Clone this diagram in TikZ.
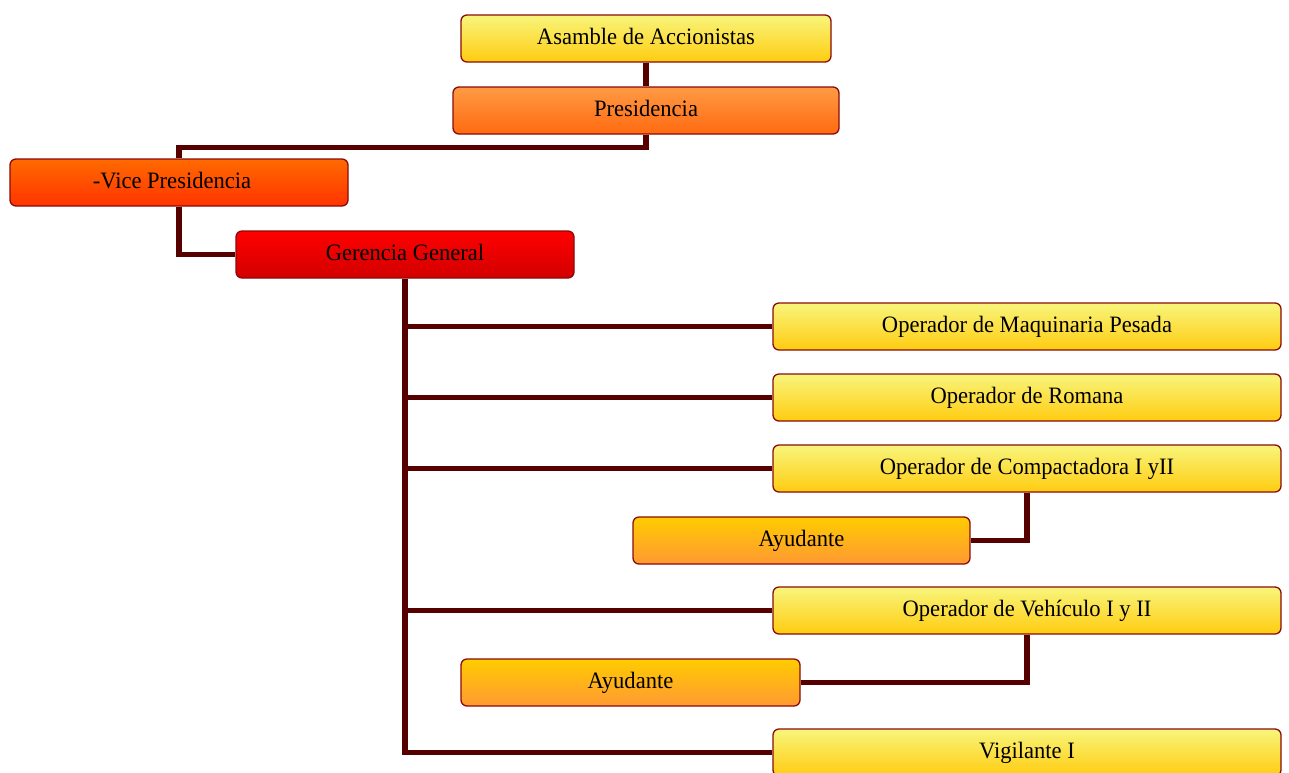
\documentclass[tikz,border=0pt]{standalone}
\usepackage{fontspec}
\setmainfont[FakeStretch=0.96]{Liberation Serif}
\pgfdeclarelayer{bg}
\pgfsetlayers{bg,main}
\definecolor{edgeC}{HTML}{570000}
\definecolor{frameC}{HTML}{8B0A0A}
\definecolor{ylTop}{HTML}{F8F57C}
\definecolor{ylBot}{HTML}{FFCC10}
\definecolor{prTop}{HTML}{FF9A45}
\definecolor{prBot}{HTML}{FF6A10}
\definecolor{vpTop}{HTML}{FF6A00}
\definecolor{vpBot}{HTML}{FF3300}
\definecolor{grTop}{HTML}{FF0000}
\definecolor{grBot}{HTML}{D20000}
\definecolor{ayTop}{HTML}{FFCC00}
\definecolor{ayBot}{HTML}{FF9933}
\tikzset{
  box/.style={draw=frameC, line width=1.3pt, rounded corners=6pt,
    minimum height=47pt, inner sep=0pt, align=center,
    text height=16pt, text depth=5pt,
    font=\fontsize{23.5}{26}\selectfont},
  wide/.style={box, minimum width=508pt},
  yellowbox/.style={top color=ylTop, bottom color=ylBot},
  presbox/.style={top color=prTop, bottom color=prBot},
  vicebox/.style={top color=vpTop, bottom color=vpBot},
  gerbox/.style={top color=grTop, bottom color=grBot},
  helpbox/.style={top color=ayTop, bottom color=ayBot},
  link/.style={draw=edgeC, line width=5.5pt}
}
\begin{document}
\begin{tikzpicture}[x=1pt,y=-1pt]
\useasboundingbox (0,0) rectangle (1289,772);
% hierarchy boxes
\node[box, yellowbox, minimum width=370pt] (asam) at (646,38.5) {Asamble de Accionistas};
\node[box, presbox, minimum width=386pt] (pres) at (646,110.5) {Presidencia};
\node[box, vicebox, minimum width=338pt] (vice) at (179,182.5) {\hspace*{-14pt}-Vice Presidencia};
\node[box, gerbox, minimum width=338pt] (ger) at (405,254.5) {Gerencia General};
% operating staff
\node[wide, yellowbox] (maq) at (1027,326.5) {Operador de Maquinaria Pesada};
\node[wide, yellowbox] (rom) at (1027,397.5) {Operador de Romana};
\node[wide, yellowbox] (comp) at (1027,468.5) {Operador de Compactadora I yII};
\node[box, helpbox, minimum width=337pt] (ay1) at (801.5,540.5) {Ayudante};
\node[wide, yellowbox] (veh) at (1027,610.5) {Operador de Vehículo I y II};
\node[box, helpbox, minimum width=339pt] (ay2) at (630.5,682.5) {Ayudante};
\node[wide, yellowbox] (vig) at (1027,752.5) {Vigilante I};
% connectors
\begin{pgfonlayer}{bg}
\draw[link] (asam.south) -- (pres.north);
\draw[link] (pres.south) -- ++(0,13) -| (vice.north);
\draw[link] (vice.south) |- (ger.west);
\draw[link] (ger.south) |- (vig.west);
\draw[link] (ger.south |- maq.west) -- (maq.west);
\draw[link] (ger.south |- rom.west) -- (rom.west);
\draw[link] (ger.south |- comp.west) -- (comp.west);
\draw[link] (ger.south |- veh.west) -- (veh.west);
\draw[link] (comp.south) |- (ay1.east);
\draw[link] (veh.south) |- (ay2.east);
\end{pgfonlayer}
\end{tikzpicture}
\end{document}
